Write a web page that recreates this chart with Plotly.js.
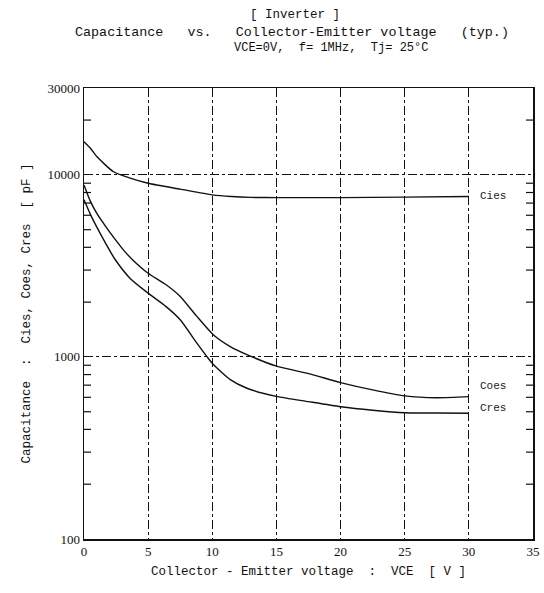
<!DOCTYPE html>
<html>
<head>
<meta charset="utf-8">
<script src="https://cdn.plot.ly/plotly-3.0.1.min.js"></script>
<style>html,body{margin:0;padding:0;background:#fff;}#chart{width:544px;height:593px;}</style>
</head>
<body>
<div id="chart"></div>
<script>
// Data
var vceCies = [0, 0.5, 1, 2.3, 3.6, 5, 7.5, 10, 11.5, 13, 15, 20, 25, 30];
var cies    = [15200, 14000, 12600, 10400, 9600, 9000, 8350, 7760, 7600, 7520, 7500, 7500, 7550, 7600];

var vceCoes = [0, 0.5, 1, 1.7, 2.4, 3.1, 3.8, 5, 6.4, 7.5, 8.8, 10.1, 11.4, 12.7, 15, 17.5, 20, 22.5, 25, 27.5, 30];
var coes    = [8800, 7150, 6150, 5200, 4450, 3850, 3410, 2880, 2490, 2150, 1670, 1320, 1140, 1030, 890, 810, 723, 659, 611, 597, 605];

var vceCres = [0, 0.5, 1, 1.7, 2.4, 3.6, 5, 6.4, 7.5, 8.8, 9.6, 10.1, 11.4, 12.7, 15, 17.5, 20, 22.5, 25, 27.5, 30];
var cres    = [7300, 6070, 5160, 4190, 3450, 2700, 2240, 1890, 1600, 1190, 1000, 905, 750, 673, 607, 568, 533, 510, 494, 492, 491];

var curveLabels = ["Cies", "Coes", "Cres"];
var labelX = [30.7, 30.7, 30.7];
var labelY = [7700, 690, 525];

var yTickVals = [100, 1000, 10000, 30000];
var yTickText = ["100", "1000", "10000", "30000"];
var yMinorVals = [200, 300, 400, 500, 600, 700, 800, 900,
  2000, 3000, 4000, 5000, 6000, 7000, 8000, 9000, 20000];
var xTickVals = [0, 5, 10, 15, 20, 25, 30, 35];
var xRange = [0, 35];

var titleLines = ["[ Inverter ]",
  "Capacitance   vs.   Collector-Emitter voltage   (typ.)",
  "VCE=0V,  f= 1MHz,  Tj= 25\u00B0C"];
var xTitle = "Collector - Emitter voltage  :  VCE  [ V ]";
var yTitle = "Capacitance  :  Cies, Coes, Cres  [ pF ]";

var mono = "Liberation Mono, DejaVu Sans Mono, monospace";
var serif = "Liberation Serif, DejaVu Serif, serif";

function trace(x, y) {
  return {x: x, y: y, type: "scatter", mode: "lines",
    line: {color: "#111", width: 1.4, shape: "spline", smoothing: 0.6},
    hoverinfo: "skip", showlegend: false};
}

// minor tick marks on left and right frame (half of each marker is clipped by the frame)
function minorTicks(xEdge) {
  return {x: yMinorVals.map(function () { return xEdge; }), y: yMinorVals,
    type: "scatter", mode: "markers", cliponaxis: true,
    marker: {symbol: "line-ew-open", size: 10, color: "#111", line: {color: "#111", width: 1.2}},
    hoverinfo: "skip", showlegend: false};
}

var data = [trace(vceCies, cies), trace(vceCoes, coes), trace(vceCres, cres),
  minorTicks(xRange[0]), minorTicks(xRange[1])];

var annotations = [];
for (var i = 0; i < curveLabels.length; i++) {
  annotations.push({x: labelX[i], y: Math.log10(labelY[i]), xref: "x", yref: "y",
    text: curveLabels[i], showarrow: false, xanchor: "left", yanchor: "middle",
    font: {family: mono, size: 11, color: "#222"}});
}
var titleY = [1.162, 1.124, 1.089];
var titleX = [0.47, 0.463, 0.55];
var titleSize = [12.5, 13.4, 12];
for (var j = 0; j < titleLines.length; j++) {
  annotations.push({x: titleX[j], y: titleY[j], xref: "paper", yref: "paper",
    text: titleLines[j], showarrow: false, xanchor: "center", yanchor: "middle",
    font: {family: mono, size: titleSize[j], color: "#111"}});
}

var yRange = [2, Math.log10(30000)];

var layout = {
  width: 544, height: 593,
  margin: {l: 84, r: 11, t: 88, b: 54},
  paper_bgcolor: "#fff", plot_bgcolor: "#fff",
  showlegend: false,
  xaxis: {
    type: "linear", range: xRange,
    tickvals: xTickVals, ticks: "",
    tickfont: {family: serif, size: 13, color: "#111"},
    showgrid: true, gridcolor: "#111", gridwidth: 1, griddash: "dashdot",
    zeroline: false,
    showline: true, linecolor: "#111", linewidth: 1.5, mirror: true,
    title: {text: xTitle, font: {family: mono, size: 12.5, color: "#111"}, standoff: 8}
  },
  yaxis: {
    type: "log", range: yRange,
    tickvals: yTickVals, ticktext: yTickText, ticks: "",
    tickfont: {family: serif, size: 13, color: "#111"},
    showgrid: true, gridcolor: "#111", gridwidth: 1, griddash: "dashdot",
    zeroline: false,
    showline: true, linecolor: "#111", linewidth: 1.5, mirror: true,
    title: {text: yTitle, font: {family: mono, size: 12.5, color: "#111"}, standoff: 14}
  },
  annotations: annotations
};

Plotly.newPlot("chart", data, layout, {displayModeBar: false, staticPlot: true});
</script>
</body>
</html>
